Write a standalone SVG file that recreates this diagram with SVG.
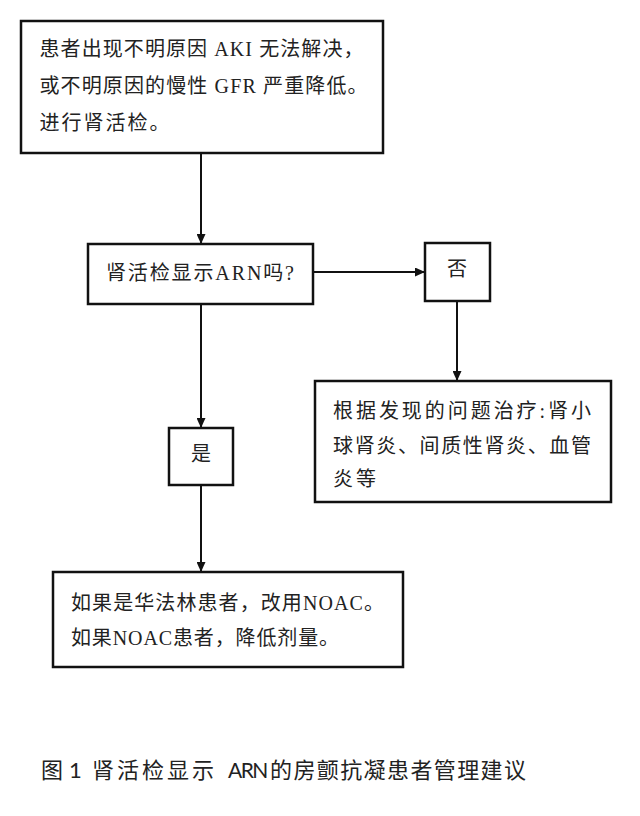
<svg xmlns="http://www.w3.org/2000/svg" width="640" height="816" viewBox="0 0 640 816">
<style>
.box{fill:#fff;stroke:#111;stroke-width:2.5}
.t{font-family:"Liberation Serif","Noto Sans CJK SC",serif;font-size:20px;fill:#222}
.c{font-family:"Lato","Noto Sans CJK SC",sans-serif;font-size:22px;fill:#222}
.conn{stroke:#111;stroke-width:2;fill:none;marker-end:url(#ah)}
</style>
<defs>
<marker id="ah" markerUnits="userSpaceOnUse" markerWidth="10" markerHeight="9" refX="10" refY="4.5" orient="auto">
<path d="M0,0 L10,4.5 L0,9 z" fill="#111"/>
</marker>
</defs>
<rect width="640" height="816" fill="#fff"/>
<g id="connectors">
<line class="conn" x1="201" y1="154" x2="201" y2="244"/>
<line class="conn" x1="314" y1="272" x2="425" y2="272"/>
<line class="conn" x1="457" y1="302" x2="457" y2="381"/>
<line class="conn" x1="201" y1="305" x2="201" y2="428"/>
<line class="conn" x1="201" y1="486" x2="201" y2="572"/>
</g>
<g id="start">
<rect class="box" x="21" y="21" width="362" height="132"/>
<text class="t" x="39.5" y="55.5" textLength="324" lengthAdjust="spacing">患者出现不明原因 AKI 无法解决，</text>
<text class="t" x="39.5" y="92.5" textLength="328" lengthAdjust="spacing">或不明原因的慢性 GFR 严重降低。</text>
<text class="t" x="39.5" y="129.5" textLength="130" lengthAdjust="spacing">进行肾活检。</text>
</g>
<g id="decision">
<rect class="box" x="88" y="244" width="225" height="60"/>
<text class="t" x="106" y="279.5" textLength="188" lengthAdjust="spacing">肾活检显示ARN吗?</text>
</g>
<g id="no">
<rect class="box" x="425" y="243" width="65" height="58"/>
<text class="t" x="457" y="275.5" text-anchor="middle">否</text>
</g>
<g id="treat">
<rect class="box" x="315" y="381" width="296" height="121"/>
<text class="t" x="333" y="417.5" textLength="258" lengthAdjust="spacing">根据发现的问题治疗:肾小</text>
<text class="t" x="333" y="452.5" textLength="258" lengthAdjust="spacing">球肾炎、间质性肾炎、血管</text>
<text class="t" x="333" y="485.5" textLength="43" lengthAdjust="spacing">炎等</text>
</g>
<g id="yes">
<rect class="box" x="169" y="428" width="64" height="57"/>
<text class="t" x="201" y="460.5" text-anchor="middle">是</text>
</g>
<g id="action">
<rect class="box" x="53" y="572" width="350" height="95"/>
<text class="t" x="71" y="609.5" textLength="313" lengthAdjust="spacing">如果是华法林患者，改用NOAC。</text>
<text class="t" x="71" y="644.5" textLength="268" lengthAdjust="spacing">如果NOAC患者，降低剂量。</text>
</g>
<g id="caption">
<text class="c" y="778"><tspan x="41">图 </tspan><tspan x="69">1 </tspan><tspan x="92" letter-spacing="3">肾活检显示 </tspan><tspan x="228" letter-spacing="-1.5" font-size="21">ARN </tspan><tspan x="270" letter-spacing="1.4">的房颤抗凝患者管理建议</tspan></text>
</g>
</svg>
